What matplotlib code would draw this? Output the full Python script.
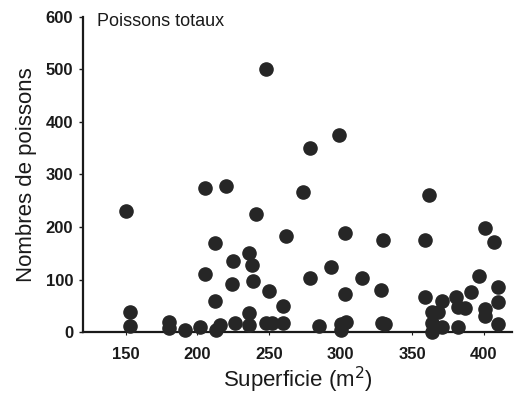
import matplotlib.pyplot as plt

plt.rcParams['font.family'] = ['Liberation Sans', 'DejaVu Sans']

# Superficie (m2) et nombre de poissons
superficie = [150, 153, 153, 180, 180, 191, 202, 213, 216, 226,
              236, 236, 248, 252, 260, 260, 212, 205, 220, 205,
              212, 225, 224, 236, 238, 239, 241, 250, 262, 248,
              274, 279, 299, 279, 293, 303, 315, 303, 285, 300,
              304, 300, 330, 328, 329, 331, 359, 362, 359, 371,
              381, 391, 397, 401, 407, 410, 410, 401, 401, 382,
              387, 364, 368, 364, 364, 371, 382, 410]
poissons = [230, 38, 12, 20, 8, 4, 10, 3, 13, 17,
            36, 14, 18, 17, 50, 18, 59, 275, 278, 110,
            170, 135, 91, 151, 127, 97, 225, 78, 183, 500,
            267, 351, 375, 103, 124, 189, 102, 72, 11, 16,
            20, 4, 175, 80, 18, 16, 175, 261, 67, 59,
            66, 77, 107, 198, 171, 85, 58, 43, 30, 48,
            45, 38, 38, 17, 1, 10, 10, 16]

fig = plt.figure(figsize=(5.14, 4.12), dpi=100)
ax = fig.add_axes([0.1615, 0.194, 0.835, 0.765])

ax.scatter(superficie, poissons, s=90, color='#262626', zorder=3, clip_on=False)

ax.set_xlim(120, 420)
ax.set_ylim(0, 600)
ax.set_xticks([150, 200, 250, 300, 350, 400])
ax.set_yticks([0, 100, 200, 300, 400, 500, 600])

for side in ['top', 'right']:
    ax.spines[side].set_visible(False)
for side in ['left', 'bottom']:
    ax.spines[side].set_linewidth(1.6)
    ax.spines[side].set_color('#1a1a1a')

ax.tick_params(axis='y', length=3, width=1, pad=4, labelsize=12, colors='#1a1a1a')
ax.tick_params(axis='x', length=2, width=0.8, pad=9, labelsize=12, colors='#1a1a1a')
for lab in ax.get_xticklabels() + ax.get_yticklabels():
    lab.set_fontweight('bold')

ax.set_xlabel('Superficie (m$^2$)', fontsize=16, labelpad=2, color='#1a1a1a')
ax.set_ylabel('Nombres de poissons', fontsize=16, labelpad=6, color='#1a1a1a')

fig.text(97 / 514, 1 - 26 / 412, 'Poissons totaux', fontsize=13,
         va='baseline', ha='left', color='#1a1a1a')

fig.savefig('out.png', dpi=100)
